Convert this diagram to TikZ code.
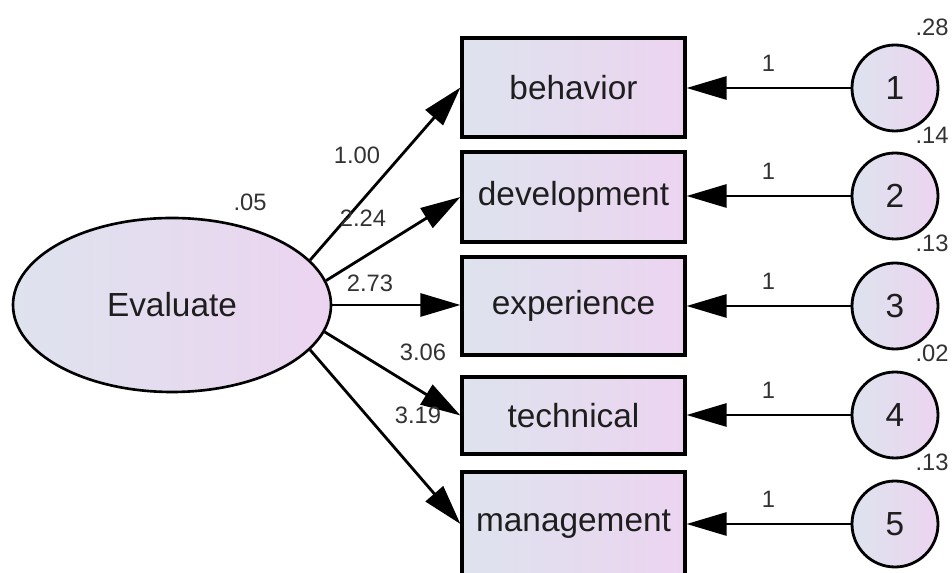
\documentclass[tikz,border=0pt]{standalone}
\usepackage{fontspec}
\setmainfont{Liberation Sans}
\usetikzlibrary{arrows.meta,shapes.geometric}
\definecolor{fillL}{RGB}{222,227,238}
\definecolor{fillR}{RGB}{236,212,240}
\definecolor{numgray}{RGB}{50,50,50}
\definecolor{txtgray}{RGB}{30,30,30}

\begin{document}
\begin{tikzpicture}[
    latent/.style={draw=black,line width=1.5pt,ellipse,minimum width=6.36cm,minimum height=3.48cm,inner sep=0pt,left color=fillL,right color=fillR,text=txtgray,font=\fontsize{19}{22}\selectfont},
    obsbox/.style={draw=black,line width=1.8pt,rectangle,minimum width=4.46cm,inner sep=0pt,left color=fillL,right color=fillR,text=txtgray,font=\fontsize{19}{22}\selectfont},
    errcirc/.style={draw=black,line width=1.6pt,circle,minimum size=1.72cm,inner sep=0pt,left color=fillL,right color=fillR,text=txtgray,font=\fontsize{19}{22}\selectfont},
    loadarrow/.style={line width=1.6pt,-{Triangle[length=0.8cm,width=0.46cm]}},
    est/.style={font=\fontsize{13.5}{15}\selectfont,text=numgray,inner sep=0pt}
]
    \useasboundingbox (0,0) rectangle (19.04,11.46);
    \clip (0,0) rectangle (19.04,11.46);

    % latent variable
    \node[latent] (eval) at (3.44,5.36) {Evaluate};
    \node[est] (veval) at (5.0,7.42) {.05};

    % indicators
    \node[obsbox,minimum height=1.98cm] (beh) at (11.47,9.71) {behavior};
    \node[obsbox,minimum height=1.80cm] (dev) at (11.47,7.52) {development};
    \node[obsbox,minimum height=1.96cm] (exp) at (11.47,5.34) {experience};
    \node[obsbox,minimum height=1.54cm] (tec) at (11.47,3.15) {technical};
    \node[obsbox,minimum height=2.08cm] (man) at (11.47,0.98) {management};

    % error terms
    \node[errcirc] (e1) at (17.9,9.70) {1};
    \node[errcirc] (e2) at (17.9,7.54) {2};
    \node[errcirc] (e3) at (17.9,5.34) {3};
    \node[errcirc] (e4) at (17.9,3.16) {4};
    \node[errcirc] (e5) at (17.9,0.98) {5};
    \node[est] (v1) at (18.64,10.92) {.28};
    \node[est] (v2) at (18.64,8.76) {.14};
    \node[est] (v3) at (18.64,6.60) {.13};
    \node[est] (v4) at (18.64,4.40) {.02};
    \node[est] (v5) at (18.64,2.22) {.13};

    % loadings
    \draw[loadarrow] (eval.18) -- (beh.west);
    \draw[loadarrow] (eval.9) -- (dev.west);
    \draw[loadarrow] (eval.east) -- (eval.east -| exp.west);
    \draw[loadarrow] (eval.-10) -- (tec.west);
    \draw[loadarrow] (eval.-18) -- (man.west);
    \node[est] (l1) at (7.14,8.36) {1.00};
    \node[est] (l2) at (7.26,7.10) {2.24};
    \node[est] (l3) at (7.40,5.80) {2.73};
    \node[est] (l4) at (8.46,4.42) {3.06};
    \node[est] (l5) at (8.36,3.16) {3.19};

    % error paths
    \foreach \e/\b in {e1/beh,e2/dev,e3/exp,e4/tec,e5/man}{
        \draw[loadarrow] (\e.west) -- (\e.west -| \b.east)
            node[est,pos=0.5,above=0.3cm] {1};
    }
\end{tikzpicture}
\end{document}
